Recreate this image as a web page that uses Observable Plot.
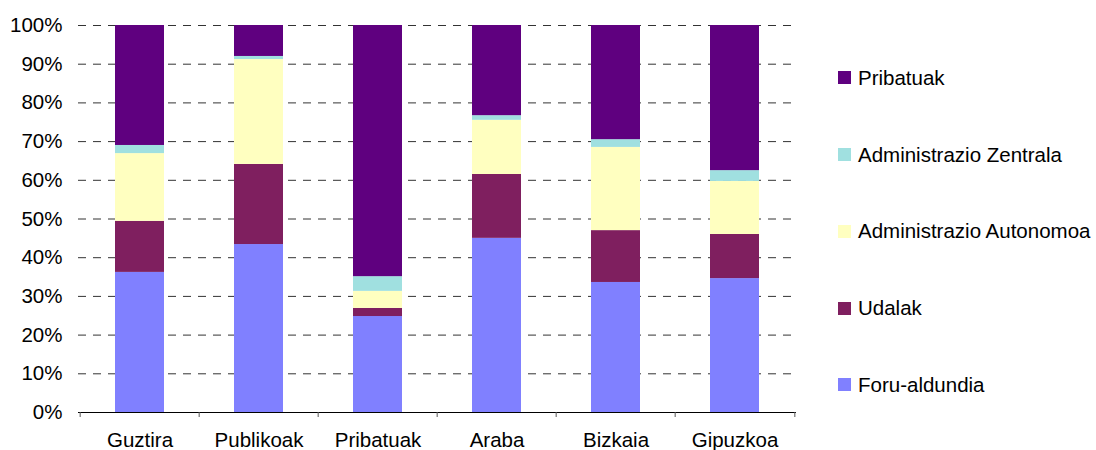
<!DOCTYPE html>
<html>
<head>
<meta charset="utf-8">
<script src="https://cdn.jsdelivr.net/npm/d3@7"></script>
<script src="https://cdn.jsdelivr.net/npm/@observablehq/plot@0.6"></script>
<style>
  html, body { margin: 0; padding: 0; background: #fff; }
  #wrap { position: relative; width: 1096px; height: 450px; font-family: "Liberation Sans", Arial, sans-serif; }
  #legend { position: absolute; left: 838px; top: 39.6px; }
  .item { display: flex; align-items: center; height: 76.75px; font-size: 20.5px; color: #000; white-space: nowrap; }
  .sw { width: 13px; height: 13px; margin-right: 7px; }
</style>
</head>
<body>
<div id="wrap"><div id="legend"></div></div>
<script>
// Categories (x axis)
const categories = ["Guztira", "Publikoak", "Pribatuak", "Araba", "Bizkaia", "Gipuzkoa"];
// Series, stacked bottom to top
const series = ["Foru-aldundia", "Udalak", "Administrazio Autonomoa", "Administrazio Zentrala", "Pribatuak"];
const colors = ["#8080ff", "#7f1f5f", "#ffffc0", "#a0e0e0", "#5f007f"];
// Percent values per series, in category order
const foruAldundia   = [36.2, 43.4, 24.8, 45.0, 33.6, 34.6];
const udalak         = [13.2, 20.7,  2.1, 16.5, 13.4, 11.4];
const adminAutonomoa = [17.5, 27.1,  4.4, 14.0, 21.5, 13.7];
const adminZentrala  = [ 2.1,  0.8,  3.8,  1.2,  2.0,  2.8];
const pribatuak      = [31.0,  8.0, 64.9, 23.3, 29.5, 37.5];
const yTicks = [0, 10, 20, 30, 40, 50, 60, 70, 80, 90, 100];

const seriesValues = [foruAldundia, udalak, adminAutonomoa, adminZentrala, pribatuak];
const data = [];
series.forEach((s, si) => categories.forEach((c, ci) => data.push({cat: c, series: s, value: seriesValues[si][ci]})));

const W = 800, H = 450, mL = 78, mR = 4, mT = 25, mB = 38;
const step = (W - mL - mR) / categories.length;

const chart = Plot.plot({
  width: W,
  height: H,
  marginLeft: mL,
  marginRight: mR,
  marginTop: mT,
  marginBottom: mB,
  style: {fontFamily: "'Liberation Sans', Arial, sans-serif", fontSize: "20.5px", color: "#000", background: "transparent", overflow: "visible"},
  x: {domain: categories, paddingInner: 0.59, paddingOuter: 0.295, axis: null},
  y: {domain: [0, 100], axis: null},
  color: {domain: series, range: colors},
  marks: [
    Plot.ruleY(yTicks.filter(d => d > 0), {y: d => d, stroke: "#333", strokeWidth: 1, strokeDasharray: "8,7"}),
    Plot.barY(data, Plot.stackY({x: "cat", y: "value", fill: "series", order: series})),
    Plot.ruleY([0], {stroke: "#000", strokeWidth: 1}),
    Plot.ruleX(categories, {x: d => d, y1: 0, y2: 0, dx: -step / 2, insetBottom: -5, stroke: "#555"}),
    Plot.ruleX(categories.slice(-1), {x: d => d, y1: 0, y2: 0, dx: step / 2, insetBottom: -5, stroke: "#555"}),
    Plot.axisX({tickSize: 0, tickPadding: 20, fontSize: 20.5, label: null}),
    Plot.axisY(yTicks, {tickSize: 0, tickPadding: 16, tickFormat: d => d + "%", fontSize: 20.5, label: null})
  ]
});
document.getElementById("wrap").prepend(chart);

const legend = document.getElementById("legend");
series.slice().reverse().forEach((s) => {
  const i = series.indexOf(s);
  const row = document.createElement("div");
  row.className = "item";
  const sw = document.createElement("span");
  sw.className = "sw";
  sw.style.background = colors[i];
  row.appendChild(sw);
  row.appendChild(document.createTextNode(s));
  legend.appendChild(row);
});
</script>
</body>
</html>
